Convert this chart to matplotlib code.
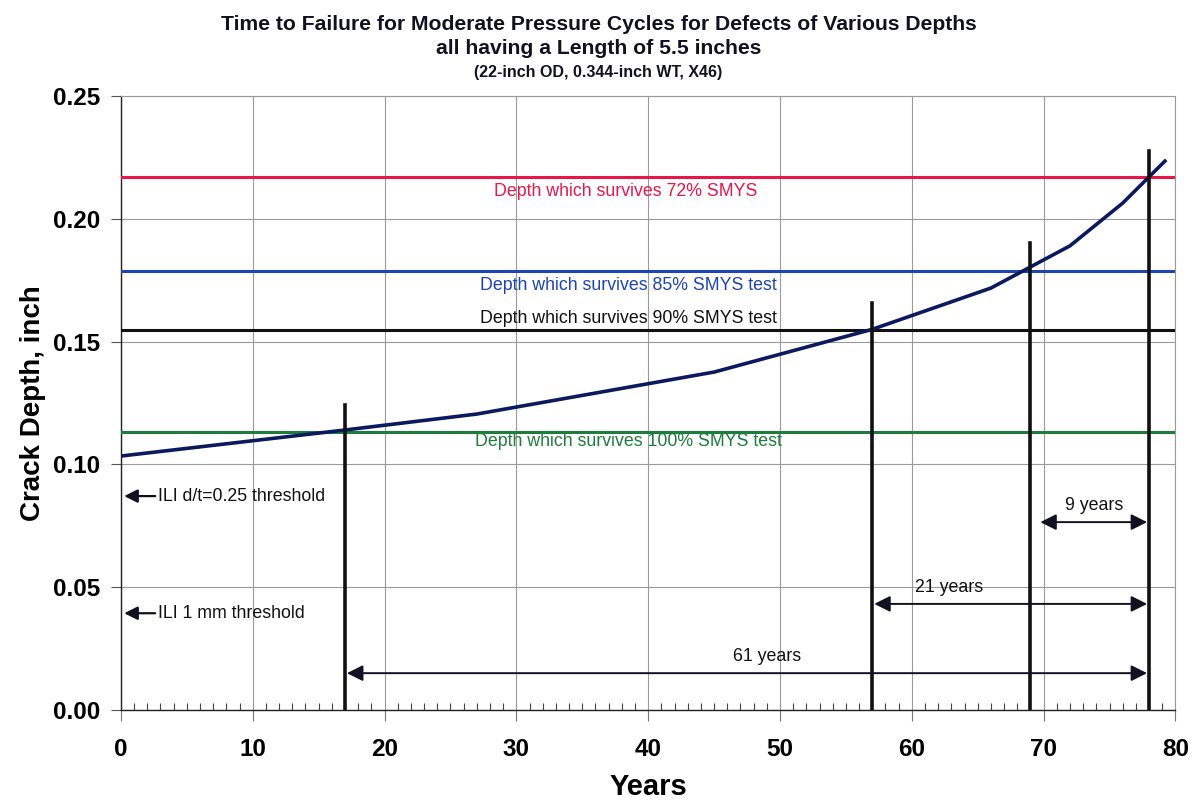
import matplotlib.pyplot as plt
from matplotlib.ticker import MultipleLocator

plt.rcParams['font.family'] = ['Liberation Sans', 'DejaVu Sans']

# crack growth curve (years, depth in inches)
years = [0, 17, 27, 45, 57, 66, 72, 76, 79.2]
depth = [0.1034, 0.1140, 0.1205, 0.1376, 0.1550, 0.1718, 0.1890, 0.2064, 0.2235]

# depths that survive each pressure level
survive_labels = ['Depth which survives 72% SMYS',
                  'Depth which survives 85% SMYS test',
                  'Depth which survives 90% SMYS test',
                  'Depth which survives 100% SMYS test']
survive_depths = [0.217, 0.1787, 0.1547, 0.1132]
survive_colors = ['#e8174a', '#1e44b0', '#111111', '#1e7d3c']

# markers where the curve reaches each depth
event_years = [17, 57, 69, 78]
event_tops = [0.1242, 0.1657, 0.190, 0.2276]

# remaining-life spans
span_starts = [17, 57, 69.6]
span_end = 78
span_levels = [0.015, 0.0432, 0.0765]
span_labels = ['61 years', '21 years', '9 years']

# ILI detection thresholds
ili_depths = [0.0871, 0.0394]
ili_labels = ['ILI d/t=0.25 threshold', 'ILI 1 mm threshold']

fig = plt.figure(figsize=(11.97, 8.0), dpi=100)
ax = fig.add_axes([0.101, 0.1125, 0.881, 0.7675])

ax.set_xlim(0, 80)
ax.set_ylim(0, 0.25)
ax.xaxis.set_major_locator(MultipleLocator(10))
ax.xaxis.set_minor_locator(MultipleLocator(1))
ax.yaxis.set_major_locator(MultipleLocator(0.05))
ax.yaxis.set_major_formatter(lambda v, p: f'{v:.2f}')
ax.grid(True, which='major', color='#9a9a9a', linewidth=0.8)
ax.set_axisbelow(True)

for side in ['top', 'right']:
    ax.spines[side].set_color('#9a9a9a')
    ax.spines[side].set_linewidth(0.8)
for side in ['left', 'bottom']:
    ax.spines[side].set_color('#222222')
    ax.spines[side].set_linewidth(1.0)

ax.tick_params(axis='x', which='major', direction='out', length=8, width=0.8,
               color='#777777', pad=12)
ax.tick_params(axis='x', which='minor', direction='in', length=5, width=0.8,
               color='#444444')
ax.tick_params(axis='y', which='major', direction='out', length=7, width=0.8,
               color='#555555', pad=8)
for lab in ax.get_xticklabels() + ax.get_yticklabels():
    lab.set_fontsize(17.5)
    lab.set_fontweight('bold')

for d, c in zip(survive_depths, survive_colors):
    ax.axhline(d, color=c, linewidth=2.2, zorder=3)

label_x = [38.3, 38.5, 38.5, 38.5]
label_dy = [-0.0057, -0.0057, 0.0049, -0.0037]
for d, c, lab, lx, dy in zip(survive_depths, survive_colors, survive_labels, label_x, label_dy):
    ax.text(lx, d + dy, lab, color=c, ha='center', va='center', fontsize=12.8)

ax.plot(years, depth, color='#0b1a5e', linewidth=2.6, zorder=5)

for x, top in zip(event_years, event_tops):
    ax.plot([x, x], [0, top], color='#111111', linewidth=2.6, zorder=6)

text_x = [49.0, 62.8, 73.8]
for x0, y, lab, tx in zip(span_starts, span_levels, span_labels, text_x):
    ax.annotate('', xy=(x0 + 0.15, y), xytext=(span_end - 0.15, y),
                arrowprops=dict(arrowstyle='<|-|>', color='#111122', linewidth=1.4,
                                mutation_scale=24, shrinkA=0, shrinkB=0), zorder=7)
    ax.text(tx, y + 0.0068, lab, ha='center', va='center', fontsize=12.8,
            color='#111111')

for y, lab in zip(ili_depths, ili_labels):
    ax.annotate('', xy=(0.25, y), xytext=(2.6, y),
                arrowprops=dict(arrowstyle='-|>', color='#111122', linewidth=1.6,
                                mutation_scale=20, shrinkA=0, shrinkB=0), zorder=7)
    ax.text(2.85, y, lab, ha='left', va='center', fontsize=12.8, color='#111111')

ax.set_xlabel('Years', fontsize=21, fontweight='bold', labelpad=9)
ax.set_ylabel('Crack Depth, inch', fontsize=20, fontweight='bold', labelpad=5)

fig.text(0.5, 0.97, 'Time to Failure for Moderate Pressure Cycles for Defects of Various Depths',
         ha='center', va='center', fontsize=15.2, fontweight='bold', color='#111122')
fig.text(0.5, 0.939, 'all having a Length of 5.5 inches',
         ha='center', va='center', fontsize=15.2, fontweight='bold', color='#111122')
fig.text(0.5, 0.909, '(22-inch OD, 0.344-inch WT, X46)',
         ha='center', va='center', fontsize=11.5, fontweight='bold', color='#111122')

fig.savefig('out.png', dpi=100)
